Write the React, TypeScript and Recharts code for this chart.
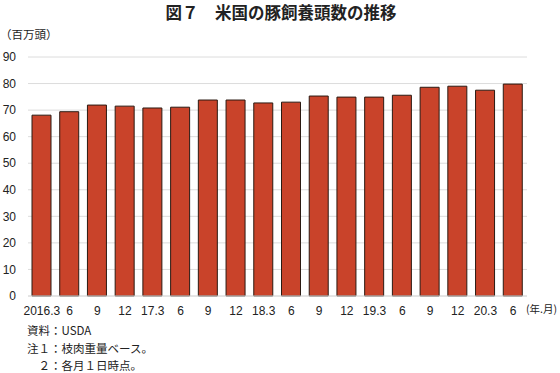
import React from 'react';
import { BarChart, Bar, XAxis, YAxis, CartesianGrid } from 'recharts';

const categories = ['2016.3', '6', '9', '12', '17.3', '6', '9', '12', '18.3', '6', '9', '12', '19.3', '6', '9', '12', '20.3', '6'];
const hogs = [68.1, 69.4, 71.9, 71.5, 70.8, 71.1, 73.8, 73.8, 72.7, 73.0, 75.3, 74.9, 74.9, 75.6, 78.6, 79.0, 77.5, 79.8];
const yTicks = [0, 10, 20, 30, 40, 50, 60, 70, 80, 90];

const data = categories.map((c, i) => ({ key: i, label: c, value: hogs[i] }));

const JP = '"Noto Sans CJK JP", "Liberation Sans", sans-serif';
const NUM = '"Liberation Sans", Arial, sans-serif';

export default function App() {
  return (
    <div style={{ position: 'absolute', left: 0, top: 0, width: 560, height: 373, background: '#fff', fontFamily: JP, color: '#222', overflow: 'hidden' }}>
      <BarChart width={560} height={373} data={data} margin={{ top: 57, right: 33, bottom: 47, left: 0 }}>
        <CartesianGrid vertical={false} stroke="#dcdcdc" />
        <XAxis
          dataKey="key"
          tickFormatter={(v: number) => categories[v]}
          axisLine={{ stroke: '#dcdcdc' }}
          tickLine={false}
          interval={0}
          tick={{ fontSize: 12, fill: '#222', fontFamily: NUM }}
          tickMargin={4}
        />
        <YAxis
          width={28}
          domain={[0, 90]}
          ticks={yTicks}
          axisLine={false}
          tickLine={false}
          interval={0}
          tick={{ fontSize: 12, fill: '#222', fontFamily: NUM }}
          tickMargin={6}
        />
        <Bar dataKey="value" fill="#C9432A" stroke="#2b1a12" strokeWidth={1} barSize={19} isAnimationActive={false} />
      </BarChart>
      <div style={{ position: 'absolute', left: 0, width: 562, top: 0, textAlign: 'center', fontSize: 16.5, fontWeight: 'bold', fontFamily: JP, whiteSpace: 'nowrap' }}>
        図７　米国の豚飼養頭数の推移
      </div>
      <div style={{ position: 'absolute', left: 0, top: 26, fontSize: 11.5, fontFamily: JP, whiteSpace: 'nowrap' }}>（百万頭）</div>
      <div style={{ position: 'absolute', left: 526, top: 301, fontSize: 10.5, fontFamily: JP, whiteSpace: 'nowrap' }}>(年.月)</div>
      <div style={{ position: 'absolute', left: 27, top: 322, fontSize: 11.5, lineHeight: '17.5px', fontFamily: JP, whiteSpace: 'nowrap' }}>
        <div>資料：USDA</div>
        <div>注１：枝肉重量ベース。</div>
        <div>　２：各月１日時点。</div>
      </div>
    </div>
  );
}
